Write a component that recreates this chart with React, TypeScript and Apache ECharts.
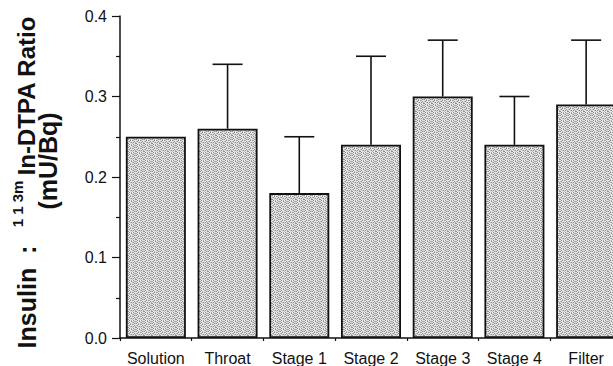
import React, { useEffect, useRef } from "react";
import * as echarts from "echarts";

const categories = ["Solution", "Throat", "Stage 1", "Stage 2", "Stage 3", "Stage 4", "Filter"];
const ratioValues = [0.25, 0.26, 0.18, 0.24, 0.3, 0.24, 0.29];
const errorTops = [null, 0.34, 0.25, 0.35, 0.37, 0.3, 0.37];
const yTicks = [0, 0.1, 0.2, 0.3, 0.4];

const FONT = "'Liberation Sans', Arial, Helvetica, sans-serif";

const PATTERN_ROWS = [
  "LDLMLDLL",
  "MLLDLLMD",
  "LDLLMDLL",
  "DLMLLLDM",
  "LLDLDMLL",
  "MDLLLLDL",
  "LLMDLDLM",
  "DLLLMLLD",
];
const PATTERN_COLORS: Record<string, string> = { L: "#e6e6e6", M: "#b4b4b4", D: "#8a8a8a" };

function makePattern(): HTMLCanvasElement {
  const c = document.createElement("canvas");
  c.width = 8;
  c.height = 8;
  const ctx = c.getContext("2d")!;
  for (let y = 0; y < 8; y++) {
    for (let x = 0; x < 8; x++) {
      ctx.fillStyle = PATTERN_COLORS[PATTERN_ROWS[y][x]];
      ctx.fillRect(x, y, 1, 1);
    }
  }
  return c;
}

export default function App() {
  const ref = useRef<HTMLDivElement>(null);

  useEffect(() => {
    if (!ref.current) return;
    const chart = echarts.init(ref.current, null, { renderer: "svg" });
    const pattern = makePattern();

    const errData = categories
      .map((_, i) => (errorTops[i] == null ? null : [i, ratioValues[i], errorTops[i]]))
      .filter((d) => d !== null);

    const titleText = (text: string, x: number, y: number, size: number) => ({
      type: "text",
      x,
      y,
      rotation: Math.PI / 2,
      style: {
        text,
        font: `bold ${size}px ${FONT}`,
        fill: "#111",
        align: "center",
        verticalAlign: "middle",
      },
    });

    chart.setOption({
      animation: false,
      backgroundColor: "#ffffff",
      grid: { left: 120, right: 18, top: 16, bottom: 27 },
      xAxis: {
        type: "category",
        data: categories,
        axisLine: { show: true, lineStyle: { color: "#111", width: 1.5 } },
        axisTick: { show: true, length: 3, interval: 0, lineStyle: { color: "#111", width: 1.2 } },
        axisLabel: { color: "#111", fontFamily: FONT, fontSize: 16, margin: 12, interval: 0 },
      },
      yAxis: {
        type: "value",
        min: 0,
        max: 0.4,
        interval: 0.1,
        axisLine: { show: true, lineStyle: { color: "#111", width: 1.5 } },
        axisTick: { show: true, length: 8, lineStyle: { color: "#111", width: 1.2 } },
        minorTick: { show: true, splitNumber: 2, length: 4, lineStyle: { color: "#111", width: 1.2 } },
        splitLine: { show: false },
        axisLabel: {
          color: "#111",
          fontFamily: FONT,
          fontSize: 16,
          margin: 13,
          formatter: (v: number) => (yTicks.some((t) => Math.abs(t - v) < 1e-9) ? v.toFixed(1) : ""),
        },
      },
      graphic: [
        titleText("Insulin  :", 27, 297, 25),
        titleText("1 1 3m", 17, 204, 15),
        titleText("In-DTPA Ratio", 26, 96, 24),
        titleText("(mU/Bq)", 48, 161, 25),
      ],
      series: [
        {
          type: "bar",
          data: ratioValues,
          barWidth: 60,
          itemStyle: {
            color: { image: pattern, repeat: "repeat" },
            borderColor: "#111",
            borderWidth: 1.8,
          },
          z: 2,
        },
        {
          type: "custom",
          data: errData,
          z: 3,
          renderItem: (params: any, api: any) => {
            const i = api.value(0);
            const base = api.coord([i, api.value(1)]);
            const top = api.coord([i, api.value(2)]);
            const half = 15;
            const style = { stroke: "#111", lineWidth: 1.6 };
            return {
              type: "group",
              children: [
                { type: "line", shape: { x1: base[0], y1: base[1], x2: top[0], y2: top[1] }, style },
                { type: "line", shape: { x1: top[0] - half, y1: top[1], x2: top[0] + half, y2: top[1] }, style },
              ],
            };
          },
        },
      ],
    });

    return () => chart.dispose();
  }, []);

  return (
    <div
      style={{
        position: "fixed",
        left: 0,
        top: 0,
        width: 613,
        height: 366,
        overflow: "hidden",
        background: "#fff",
      }}
    >
      <div ref={ref} style={{ width: 640, height: 366 }} />
    </div>
  );
}
